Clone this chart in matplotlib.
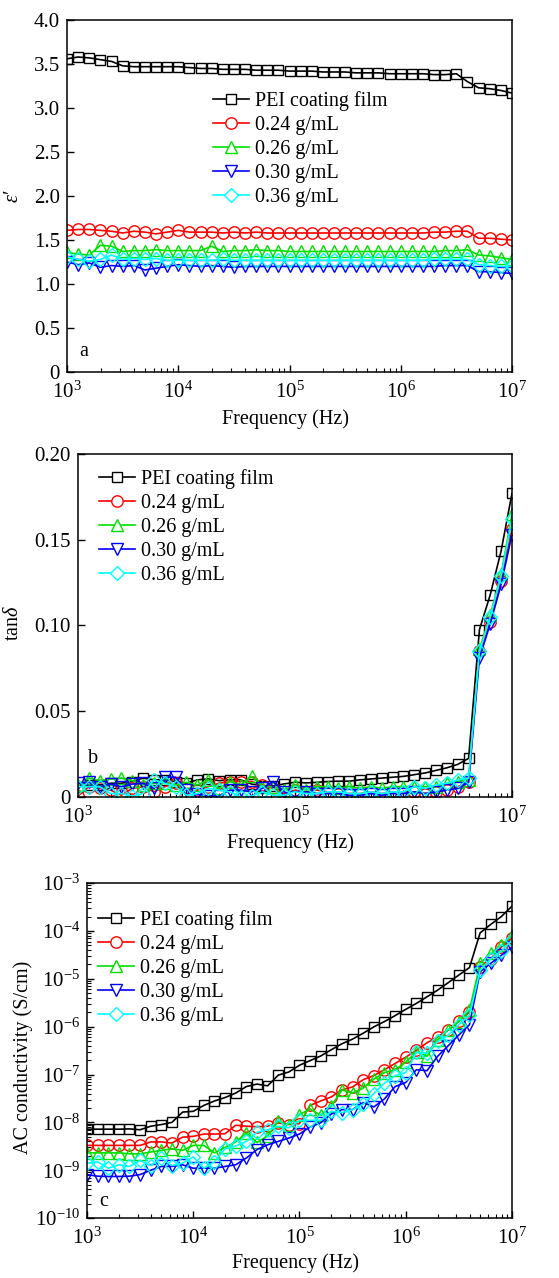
"""Dielectric constant, loss tangent and AC conductivity versus frequency."""

import matplotlib

matplotlib.use("Agg")
import matplotlib.pyplot as plt
from matplotlib.ticker import FixedLocator, FixedFormatter, LogLocator, NullFormatter, LogFormatterMathtext
import numpy as np

# frequency grid: 10 points per decade, 1e3 .. 1e7 Hz
freq = 10 ** (3 + 0.1 * np.arange(41))

labels = ["PEI coating film", "0.24 g/mL", "0.26 g/mL", "0.30 g/mL", "0.36 g/mL"]

# (a) dielectric constant
eps_pei = [3.56, 3.58, 3.57, 3.55, 3.53, 3.48, 3.47, 3.47, 3.47, 3.47, 3.47,
           3.46, 3.45, 3.45, 3.44, 3.44, 3.44, 3.43, 3.43, 3.43, 3.42,
           3.42, 3.42, 3.41, 3.41, 3.41, 3.40, 3.40, 3.40, 3.39, 3.39,
           3.39, 3.39, 3.38, 3.38, 3.39, 3.30, 3.23, 3.22, 3.20, 3.17]
eps_024 = [1.61, 1.62, 1.62, 1.61, 1.60, 1.58, 1.60, 1.59, 1.57, 1.59, 1.61,
           1.59, 1.59, 1.59, 1.58, 1.59, 1.58, 1.59, 1.58, 1.58, 1.58,
           1.58, 1.58, 1.58, 1.58, 1.58, 1.58, 1.58, 1.58, 1.58, 1.58,
           1.58, 1.58, 1.59, 1.59, 1.60, 1.60, 1.52, 1.52, 1.51, 1.50]
eps_026 = [1.36, 1.34, 1.33, 1.44, 1.43, 1.37, 1.38, 1.38, 1.39, 1.38, 1.38,
           1.38, 1.38, 1.43, 1.37, 1.38, 1.38, 1.39, 1.38, 1.38, 1.37,
           1.37, 1.37, 1.37, 1.37, 1.37, 1.37, 1.37, 1.37, 1.37, 1.37,
           1.37, 1.37, 1.37, 1.38, 1.38, 1.39, 1.33, 1.32, 1.30, 1.28]
eps_030 = [1.25, 1.22, 1.24, 1.19, 1.21, 1.20, 1.21, 1.16, 1.18, 1.20, 1.22,
           1.21, 1.20, 1.21, 1.20, 1.19, 1.20, 1.20, 1.20, 1.20, 1.20,
           1.20, 1.20, 1.20, 1.20, 1.20, 1.20, 1.20, 1.20, 1.20, 1.20,
           1.20, 1.20, 1.20, 1.21, 1.21, 1.21, 1.14, 1.14, 1.13, 1.12]
eps_036 = [1.31, 1.28, 1.26, 1.28, 1.33, 1.28, 1.29, 1.28, 1.29, 1.27, 1.27,
           1.27, 1.27, 1.27, 1.28, 1.27, 1.27, 1.27, 1.27, 1.27, 1.27,
           1.27, 1.27, 1.27, 1.27, 1.27, 1.27, 1.27, 1.27, 1.27, 1.27,
           1.27, 1.27, 1.28, 1.28, 1.28, 1.28, 1.22, 1.21, 1.20, 1.20]

# (b) loss tangent
tan_pei = [0.006, 0.007, 0.007, 0.008, 0.008, 0.009, 0.011, 0.010, 0.010, 0.009, 0.008,
           0.010, 0.0105, 0.0095, 0.010, 0.010, 0.0075, 0.0066, 0.0065, 0.0076, 0.0086,
           0.0082, 0.0085, 0.009, 0.0092, 0.0092, 0.010, 0.0105, 0.011, 0.0115, 0.012,
           0.013, 0.014, 0.0155, 0.017, 0.019, 0.0225, 0.0975, 0.118, 0.1435, 0.177]
tan_024 = [0.0006, 0.006, 0.005, 0.004, 0.001, 0.005, 0.006, 0.003, 0.006, 0.008, 0.001,
           0.004, 0.006, 0.008, 0.009, 0.009, 0.009, 0.007, 0.005, 0.002, 0.004,
           0.003, 0.004, 0.003, 0.002, 0.002, 0.002, 0.003, 0.002, 0.003, 0.003,
           0.003, 0.002, 0.003, 0.004, 0.006, 0.009, 0.085, 0.102, 0.126, 0.156]
tan_026 = [0.007, 0.011, 0.0095, 0.0105, 0.011, 0.0095, 0.007, 0.008, 0.008, 0.007, 0.0085,
           0.007, 0.010, 0.005, 0.009, 0.007, 0.012, 0.006, 0.006, 0.004, 0.007,
           0.004, 0.006, 0.006, 0.005, 0.006, 0.005, 0.006, 0.005, 0.006, 0.006,
           0.006, 0.006, 0.006, 0.008, 0.009, 0.010, 0.086, 0.106, 0.130, 0.165]
tan_030 = [0.008, 0.0085, 0.006, 0.0075, 0.006, 0.0075, 0.008, 0.005, 0.0115, 0.0115, 0.004,
           0.0015, 0.0006, 0.0006, 0.004, 0.004, 0.003, 0.005, 0.009, 0.003, 0.000,
           0.003, 0.002, 0.002, 0.002, 0.001, 0.001, 0.002, 0.001, 0.002, 0.002,
           0.003, 0.002, 0.003, 0.004, 0.005, 0.0085, 0.081, 0.101, 0.124, 0.153]
tan_036 = [0.006, 0.006, 0.006, 0.002, 0.002, 0.0005, 0.002, 0.010, 0.008, 0.006, 0.001,
           0.002, 0.005, 0.004, 0.003, 0.000, 0.0005, 0.003, 0.001, 0.001, 0.003,
           0.002, 0.002, 0.003, 0.003, 0.002, 0.002, 0.003, 0.002, 0.003, 0.003,
           0.006, 0.005, 0.007, 0.008, 0.010, 0.011, 0.085, 0.105, 0.129, 0.162]

# (c) AC conductivity, S/cm
sig_pei = [7.2e-9, 7.2e-9, 7.2e-9, 7.2e-9, 7.3e-9, 7.0e-9, 8.3e-9, 9.0e-9, 1.0e-8, 1.64e-8, 1.7e-8,
           2.26e-8, 2.8e-8, 3.3e-8, 4.1e-8, 5.6e-8, 6.3e-8, 5.8e-8, 9.7e-8, 1.13e-7, 1.56e-7,
           1.95e-7, 2.44e-7, 3.3e-7, 4.4e-7, 5.5e-7, 7.3e-7, 9.9e-7, 1.28e-6, 1.7e-6, 2.3e-6,
           3.06e-6, 4.2e-6, 5.8e-6, 8.3e-6, 1.2e-5, 1.72e-5, 9.1e-5, 1.37e-4, 2.0e-4, 3.3e-4]
sig_024 = [3.3e-9, 3.3e-9, 3.3e-9, 3.3e-9, 3.3e-9, 3.3e-9, 3.9e-9, 3.9e-9, 3.7e-9, 4.9e-9, 5.1e-9,
           5.7e-9, 5.7e-9, 5.8e-9, 8.7e-9, 8.3e-9, 8.1e-9, 8.3e-9, 9.7e-9, 9.0e-9, 9.4e-9,
           2.26e-8, 2.8e-8, 3.4e-8, 4.8e-8, 5.5e-8, 7.8e-8, 9.5e-8, 1.26e-7, 1.7e-7, 2.3e-7,
           3.2e-7, 4.6e-7, 6.1e-7, 8.5e-7, 1.3e-6, 2.0e-6, 1.8e-5, 2.6e-5, 4.6e-5, 7.1e-5]
sig_026 = [2.3e-9, 2.3e-9, 2.3e-9, 2.3e-9, 2.2e-9, 2.2e-9, 2.4e-9, 2.6e-9, 2.8e-9, 2.6e-9, 3.3e-9,
           3.3e-9, 2.3e-9, 3.0e-9, 3.9e-9, 6.0e-9, 3.8e-9, 5.2e-9, 1.05e-8, 9.0e-9, 1.45e-8,
           1.9e-8, 1.4e-8, 2.2e-8, 4.8e-8, 4.1e-8, 5.2e-8, 8.0e-8, 1.1e-7, 1.26e-7, 1.8e-7,
           3.0e-7, 2.4e-7, 5.3e-7, 8.5e-7, 1.28e-6, 2.2e-6, 2.1e-5, 3.4e-5, 5.0e-5, 8.1e-5]
sig_030 = [8.1e-10, 7.5e-10, 7.4e-10, 7.4e-10, 7.5e-10, 8.1e-10, 1.0e-9, 1.2e-9, 1.2e-9, 1.3e-9, 1.1e-9,
           1.1e-9, 1.1e-9, 1.2e-9, 1.3e-9, 1.8e-9, 2.7e-9, 3.4e-9, 4.0e-9, 4.7e-9, 5.7e-9,
           8.0e-9, 9.8e-9, 1.5e-8, 1.85e-8, 1.85e-8, 2.6e-8, 2.1e-8, 3.1e-8, 5.6e-8, 6.8e-8,
           1.26e-7, 1.2e-7, 2.4e-7, 4.0e-7, 6.7e-7, 1.1e-6, 1.4e-5, 2.1e-5, 3.1e-5, 4.6e-5]
sig_036 = [1.4e-9, 1.5e-9, 1.1e-9, 1.3e-9, 1.2e-9, 1.6e-9, 1.25e-9, 1.8e-9, 1.25e-9, 1.4e-9, 1.9e-9,
           1.1e-9, 1.5e-9, 2.8e-9, 3.2e-9, 4.0e-9, 6.2e-9, 7.0e-9, 8.3e-9, 7.7e-9, 1.1e-8,
           1.1e-8, 1.1e-8, 1.7e-8, 1.6e-8, 1.85e-8, 2.4e-8, 4.0e-8, 6.6e-8, 9.4e-8, 1.1e-7,
           2.9e-7, 2.8e-7, 4.9e-7, 6.7e-7, 1.1e-6, 1.75e-6, 1.5e-5, 2.6e-5, 3.8e-5, 6.4e-5]

COLORS = ["#000000", "#FF0000", "#00E000", "#0000FF", "#00FFFF"]
MARKERS = ["s", "o", "^", "v", "D"]
MSIZE = [7.8, 8.2, 8.8, 8.8, 7.3]

plt.rcParams.update({
    "font.family": ["Liberation Serif", "DejaVu Serif"],
    "font.size": 15,
    "mathtext.fontset": "custom",
    "mathtext.rm": "Liberation Serif",
    "mathtext.it": "Liberation Serif:italic",
    "axes.linewidth": 1.1,
    "xtick.direction": "in",
    "ytick.direction": "in",
    "xtick.major.size": 5,
    "ytick.major.size": 5,
    "xtick.minor.size": 3,
    "ytick.minor.size": 3,
    "xtick.major.width": 1.0,
    "ytick.major.width": 1.0,
    "xtick.minor.width": 0.8,
    "ytick.minor.width": 0.8,
    "xtick.major.pad": 7,
    "ytick.major.pad": 5,
})


def draw_series(ax, series):
    for ys, lab, c, m, s in zip(series, labels, COLORS, MARKERS, MSIZE):
        ax.plot(freq, ys, color=c, lw=1.2, marker=m, ms=s, mfc="none",
                mec=c, mew=1.0, label=lab)


def style_x(ax):
    ax.set_xscale("log")
    ax.set_xlim(1e3, 1e7)
    ax.xaxis.set_major_locator(LogLocator(base=10, numticks=10))
    ax.xaxis.set_major_formatter(LogFormatterMathtext())
    ax.xaxis.set_minor_locator(LogLocator(base=10, subs=np.arange(2, 10), numticks=50))
    ax.xaxis.set_minor_formatter(NullFormatter())
    ax.set_xlabel("Frequency (Hz)", fontsize=14.5)
    ax.xaxis.set_label_coords(0.49, -0.105)


def legend(ax, x, y):
    leg = ax.legend(loc="upper left", bbox_to_anchor=(x, y), frameon=False,
                    handlelength=1.8, handletextpad=0.3, labelspacing=0.245,
                    borderaxespad=0, borderpad=0, fontsize=14.5)
    for h in leg.legend_handles:
        h.set_markerfacecolor("white")


fig = plt.figure(figsize=(5.59, 12.78), dpi=100)

# panel a
ax1 = fig.add_axes([0.1199, 0.7089, 0.7960, 0.2754])
draw_series(ax1, [eps_pei, eps_024, eps_026, eps_030, eps_036])
style_x(ax1)
ax1.set_ylim(0, 4.0)
ax1.yaxis.set_major_locator(FixedLocator([0, 0.5, 1.0, 1.5, 2.0, 2.5, 3.0, 3.5, 4.0]))
ax1.yaxis.set_major_formatter(FixedFormatter(["0", "0.5", "1.0", "1.5", "2.0", "2.5", "3.0", "3.5", "4.0"]))
ax1.set_ylabel("ε′", fontstyle="italic", fontsize=14.5)
ax1.yaxis.set_label_coords(-0.099, 0.5)
ax1.text(0.028, 0.045, "a", transform=ax1.transAxes, fontsize=14.5)
legend(ax1, 0.328, 0.798)

# panel b
ax2 = fig.add_axes([0.1395, 0.3764, 0.7764, 0.2684])
draw_series(ax2, [tan_pei, tan_024, tan_026, tan_030, tan_036])
style_x(ax2)
ax2.set_ylim(0, 0.20)
ax2.yaxis.set_major_locator(FixedLocator([0, 0.05, 0.10, 0.15, 0.20]))
ax2.yaxis.set_major_formatter(FixedFormatter(["0", "0.05", "0.10", "0.15", "0.20"]))
ax2.set_ylabel(r"tan$\mathit{\delta}$", fontsize=14.5)
ax2.yaxis.set_label_coords(-0.127, 0.507)
ax2.text(0.022, 0.1, "b", transform=ax2.transAxes, fontsize=14.5)
legend(ax2, 0.048, 0.955)

# panel c
ax3 = fig.add_axes([0.1556, 0.0469, 0.7603, 0.2621])
draw_series(ax3, [sig_pei, sig_024, sig_026, sig_030, sig_036])
style_x(ax3)
ax3.set_yscale("log")
ax3.set_ylim(1e-10, 1e-3)
ax3.yaxis.set_major_locator(LogLocator(base=10, numticks=12))
ax3.yaxis.set_major_formatter(LogFormatterMathtext())
ax3.yaxis.set_minor_locator(LogLocator(base=10, subs=np.arange(2, 10), numticks=60))
ax3.yaxis.set_minor_formatter(NullFormatter())
ax3.set_ylabel("AC conductivity (S/cm)", fontsize=14.5)
ax3.yaxis.set_label_coords(-0.127, 0.48)
ax3.text(0.03, 0.035, "c", transform=ax3.transAxes, fontsize=14.5)
legend(ax3, 0.026, 0.919)

fig.savefig("out.png", dpi=100)
